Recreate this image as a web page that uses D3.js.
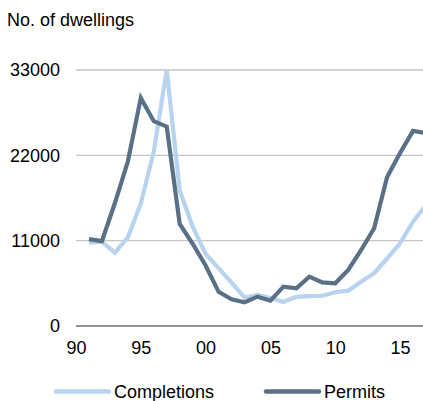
<!DOCTYPE html>
<html>
<head>
<meta charset="utf-8">
<script src="https://cdn.jsdelivr.net/npm/d3@7"></script>
<style>
html,body{margin:0;padding:0;background:#fff;}
svg{display:block;font-family:"Liberation Sans",Arial,sans-serif;}
</style>
</head>
<body>
<svg id="chart" width="423" height="401"></svg>
<script>
const years = [1991,1992,1993,1994,1995,1996,1997,1998,1999,2000,2001,2002,2003,2004,2005,2006,2007,2008,2009,2010,2011,2012,2013,2014,2015,2016,2017];
const completions = [10750,10870,9450,11430,15800,22470,33000,17500,12800,9300,7450,5600,3650,4000,3600,3100,3750,3850,3900,4350,4550,5700,6800,8700,10650,13450,15600];
const permits = [11200,10950,15850,21200,29400,26400,25700,13150,10600,7800,4400,3450,3050,3780,3260,5070,4860,6360,5630,5500,7220,9800,12600,19200,22300,25150,24850];
const yTicks = [0,11000,22000,33000];
const xTicks = [1990,1995,2000,2005,2010,2015];
const xTickLabels = ["90","95","00","05","10","15"];
const seriesNames = ["Completions","Permits"];
const seriesColors = ["#b7d3f0","#5a7087"];

const svg = d3.select("#chart");
const x = d3.scaleLinear().domain([1990,2017]).range([76,426]);
const y = d3.scaleLinear().domain([0,33000]).range([326,70]);

// gridlines
svg.append("g").selectAll("line").data(yTicks.filter(d=>d>0)).join("line")
  .attr("x1",76).attr("x2",423).attr("y1",d=>y(d)).attr("y2",d=>y(d))
  .attr("stroke","#c6c6c6").attr("stroke-width",1.3);

// y axis labels
const yAxis = d3.axisLeft(y).tickValues(yTicks).tickSize(0).tickPadding(0).tickFormat(d3.format("d"));
const yg = svg.append("g").attr("transform","translate(60,0)").call(yAxis);
yg.select(".domain").remove();
yg.selectAll("text").attr("font-size",18).attr("fill","#000").attr("font-family","Liberation Sans, Arial, sans-serif");

// x axis
const xAxis = d3.axisBottom(x).tickValues(xTicks).tickSize(0).tickPadding(0).tickFormat((d,i)=>xTickLabels[i]);
const xg = svg.append("g").attr("transform","translate(0,326)").call(xAxis);
xg.select(".domain").remove();
xg.selectAll("text").attr("font-size",18).attr("fill","#000").attr("dy",null).attr("y",28).attr("font-family","Liberation Sans, Arial, sans-serif");
svg.append("line").attr("x1",76).attr("x2",423).attr("y1",y(0)).attr("y2",y(0))
  .attr("stroke","#707070").attr("stroke-width",1.3);

// lines
const line = d3.line().x((d,i)=>x(years[i])).y(d=>y(d));
[completions, permits].forEach((s,k)=>{
  svg.append("path").datum(s).attr("d",line).attr("fill","none")
    .attr("stroke",seriesColors[k]).attr("stroke-width",4.2).attr("stroke-linejoin","miter");
});

// title
svg.append("text").attr("x",7).attr("y",26).attr("font-size",18).attr("fill","#000").text("No. of dwellings");

// legend
const legX = [56,266];
seriesNames.forEach((n,k)=>{
  svg.append("line").attr("x1",legX[k]).attr("x2",legX[k]+53).attr("y1",391.5).attr("y2",391.5)
    .attr("stroke",seriesColors[k]).attr("stroke-width",4.5).attr("stroke-linecap","round");
  svg.append("text").attr("x",legX[k]+58).attr("y",397.5).attr("font-size",18).attr("fill","#000").text(n);
});
</script>
</body>
</html>
